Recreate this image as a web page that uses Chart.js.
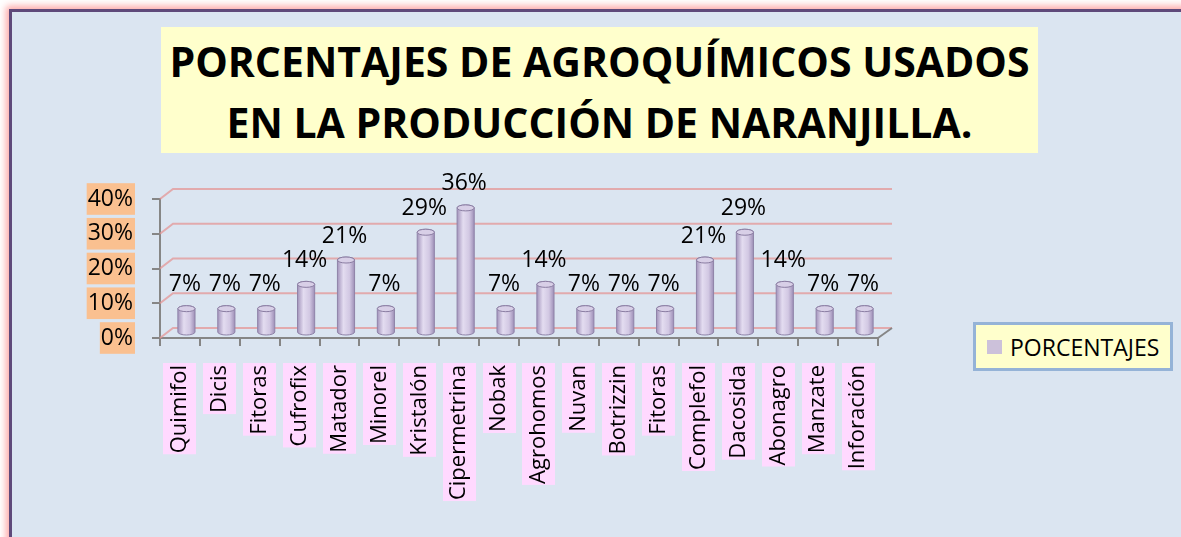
<!DOCTYPE html>
<html>
<head>
<meta charset="utf-8">
<script src="https://cdn.jsdelivr.net/npm/chart.js@4.4.1/dist/chart.umd.min.js"></script>
<style>
  html, body { margin: 0; padding: 0; background: #fff; width: 1181px; height: 537px; overflow: hidden; }
  #frame {
    position: absolute; left: 9px; top: 9px; width: 1220px; height: 580px;
    background: #DBE5F1; border: 3px solid #5F497A;
    box-shadow: 0 0 7px 3px rgba(255, 130, 130, 0.7);
  }
  #title {
    position: absolute; left: 161px; top: 27px; width: 877px; height: 126px;
    box-sizing: border-box; padding-top: 4px;
    background: #FFFFCC; text-align: center; white-space: nowrap;
    font: bold 41px/61px 'Open Sans', sans-serif; color: #000;
  }
  #legend {
    position: absolute; left: 973px; top: 322px; width: 200px; height: 49px;
    box-sizing: border-box; border: 3px solid #95B3D7; background: #FFFFCC;
    display: flex; align-items: center; padding-left: 11px;
    font: 23px 'Open Sans', sans-serif; color: #000;
  }
  #legend .swatch { width: 15px; height: 14px; margin-right: 8px; }
  canvas { position: absolute; left: 0; top: 0; }
</style>
</head>
<body>
<div id="frame"></div>
<div id="title">PORCENTAJES DE AGROQUÍMICOS USADOS<br>EN LA PRODUCCIÓN DE NARANJILLA.</div>
<canvas id="chart" width="1181" height="537"></canvas>
<div id="legend"></div>
<script>
const categories = ['Quimifol', 'Dicis', 'Fitoras', 'Cufrofix', 'Matador', 'Minorel', 'Kristalón', 'Cipermetrina', 'Nobak',
  'Agrohomos', 'Nuvan', 'Botrizzin', 'Fitoras', 'Complefol', 'Dacosida', 'Abonagro', 'Manzate', 'Inforación'];
const porcentajes = [7, 7, 7, 14, 21, 7, 29, 36, 7, 14, 7, 7, 7, 21, 29, 14, 7, 7];
const yTicks = [0, 10, 20, 30, 40];
const seriesLabel = 'PORCENTAJES';

const FONT = "22px 'Open Sans'";
const VALUE_FONT = "23px 'Open Sans'";
const DEPTH_X = 13;
const DEPTH_Y = 10;
const GRID_PINK = 'rgba(228, 150, 150, 0.75)';
const AXIS_GRAY = '#868686';

/* -----------------------------
   Pseudo 3D helpers
------------------------------ */

function drawCylinder(ctx, cx, top, base, w) {
  const rx = w / 2, ry = 3;
  const left = cx - rx, right = cx + rx;
  const g = ctx.createLinearGradient(left, 0, right, 0);
  g.addColorStop(0, '#A394BC');
  g.addColorStop(0.35, '#E3DCF0');
  g.addColorStop(0.7, '#D2C8E3');
  g.addColorStop(1, '#9E8FB7');
  ctx.beginPath();
  ctx.moveTo(left, top);
  ctx.lineTo(left, base);
  ctx.ellipse(cx, base, rx, ry, 0, Math.PI, 0, true);
  ctx.lineTo(right, top);
  ctx.ellipse(cx, top, rx, ry, 0, 0, Math.PI, true);
  ctx.closePath();
  ctx.fillStyle = g;
  ctx.fill();
  ctx.strokeStyle = '#8F83A8';
  ctx.lineWidth = 1;
  ctx.stroke();
  ctx.beginPath();
  ctx.ellipse(cx, top, rx, ry, 0, 0, Math.PI * 2);
  ctx.fillStyle = '#D8CFE7';
  ctx.fill();
  ctx.strokeStyle = '#8A7DA2';
  ctx.stroke();
}

const labelBoxes = {
  id: 'labelBoxes',
  beforeDraw(chart) {
    const { ctx } = chart;
    const xs = chart.scales.x;
    const anchor = xs.top + xs.options.grid.tickLength + xs.options.ticks.padding;
    ctx.save();
    ctx.font = FONT;
    ctx.fillStyle = '#FFD9FF';
    xs.ticks.forEach((t, i) => {
      const x = xs.getPixelForTick(i);
      const w = ctx.measureText(categories[i]).width;
      ctx.fillRect(Math.round(x - 16.5), anchor - 2, 33, w + 3);
    });
    ctx.restore();
  },
};

const pseudo3d = {
  id: 'pseudo3d',
  beforeDatasetsDraw(chart) {
    const { ctx, chartArea } = chart;
    const ys = chart.scales.y;
    ctx.save();
    // back wall grid
    ctx.strokeStyle = GRID_PINK;
    ctx.lineWidth = 2;
    ys.ticks.forEach((t) => {
      const y = ys.getPixelForValue(t.value);
      ctx.beginPath();
      ctx.moveTo(chartArea.left, y);
      ctx.lineTo(chartArea.left + DEPTH_X, y - DEPTH_Y);
      ctx.lineTo(chartArea.right + DEPTH_X + 1, y - DEPTH_Y);
      ctx.stroke();
    });
    // floor right edge
    ctx.strokeStyle = AXIS_GRAY;
    ctx.beginPath();
    ctx.moveTo(chartArea.right, chartArea.bottom);
    ctx.lineTo(chartArea.right + DEPTH_X + 1, chartArea.bottom - DEPTH_Y);
    ctx.stroke();

    // cylinders + value labels
    const meta = chart.getDatasetMeta(0);
    const values = chart.data.datasets[0].data;
    meta.data.forEach((el, i) => {
      const cx = el.x + DEPTH_X / 2;
      const top = el.y - DEPTH_Y / 2;
      const base = el.base - DEPTH_Y / 2;
      drawCylinder(ctx, cx, top, base, el.width);
      ctx.font = VALUE_FONT;
      ctx.fillStyle = '#000';
      ctx.textAlign = 'center';
      ctx.textBaseline = 'alphabetic';
      ctx.fillText(`${values[i]}%`, el.x + 5, top - 17.5);
    });
    ctx.restore();
    return false;
  },
};

const chart = new Chart(document.getElementById('chart'), {
  type: 'bar',
  data: {
    labels: categories,
    datasets: [{
      label: seriesLabel,
      data: porcentajes,
      backgroundColor: '#CCC1DA',
      barPercentage: 0.43,
      categoryPercentage: 1,
    }],
  },
  options: {
    responsive: false,
    animation: false,
    layout: { padding: { left: 0, top: 199, right: 303, bottom: 0 } },
    plugins: {
      legend: { display: false },
      title: { display: false },
      tooltip: { enabled: false },
    },
    scales: {
      x: {
        offset: true,
        grid: { drawOnChartArea: false, color: AXIS_GRAY, lineWidth: 2, tickLength: 8, offset: true },
        border: { color: AXIS_GRAY, width: 2 },
        ticks: {
          autoSkip: false, minRotation: 90, maxRotation: 90, padding: 19,
          color: '#000', font: { family: 'Open Sans', size: 22 },
        },
        afterFit: (s) => { s.height = 199; },
      },
      y: {
        min: 0,
        max: 40,
        afterBuildTicks: (s) => { s.ticks = yTicks.map((v) => ({ value: v })); },
        grid: { drawOnChartArea: false, color: AXIS_GRAY, lineWidth: 2, tickLength: 8 },
        border: { color: AXIS_GRAY, width: 2 },
        ticks: {
          padding: 19, color: '#000', font: { family: 'Open Sans', size: 23 },
          callback: (v) => `${v}%`,
          showLabelBackdrop: true, backdropColor: '#FAC090',
          backdropPadding: { top: 2, bottom: 2, left: 1, right: 2 },
        },
        afterFit: (s) => { s.width = 160; },
      },
    },
  },
  plugins: [labelBoxes, pseudo3d],
});

// legend from the dataset
const legend = document.getElementById('legend');
chart.data.datasets.forEach((ds) => {
  const sw = document.createElement('span');
  sw.className = 'swatch';
  sw.style.background = ds.backgroundColor;
  const tx = document.createElement('span');
  tx.textContent = ds.label;
  legend.append(sw, tx);
});
</script>
</body>
</html>
